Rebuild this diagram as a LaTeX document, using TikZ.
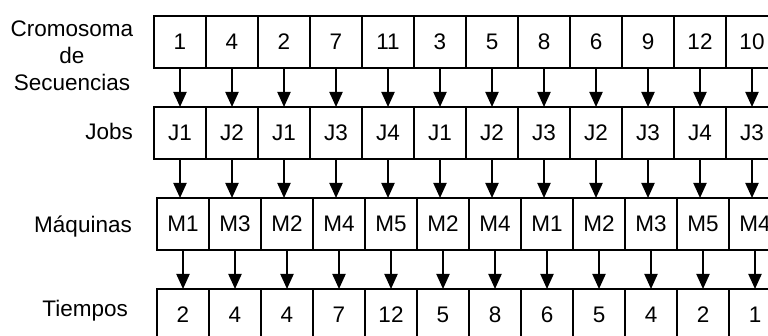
\documentclass[tikz,border=0pt]{standalone}
\usepackage{fontspec}
\setmainfont{Liberation Sans}
\usetikzlibrary{arrows.meta}

\begin{document}
\begin{tikzpicture}[x=1pt, y=-1pt,
    every node/.style={font=\fontsize{22.5}{27}\selectfont},
    cell/.style={draw, line width=2pt, minimum width=52pt, minimum height=52pt, inner sep=0pt, outer sep=0pt},
    rowname/.style={inner sep=0pt, align=center},
    flow/.style={-{Triangle[length=15pt,width=13pt]}, line width=2pt}]
    \clip (0,0) rectangle (768,336);

    \def\w{52}

    \foreach \v [count=\i] in {1,4,2,7,11,3,5,8,6,9,12,10}
        \node[cell] (c\i) at ({128+\w*\i},42) {\v};
    \foreach \v [count=\i] in {J1,J2,J1,J3,J4,J1,J2,J3,J2,J3,J4,J3}
        \node[cell] (j\i) at ({128+\w*\i},133) {\v};
    \foreach \v [count=\i] in {M1,M3,M2,M4,M5,M2,M4,M1,M2,M3,M5,M4}
        \node[cell] (m\i) at ({131+\w*\i},224) {\v};
    \foreach \v [count=\i] in {2,4,4,7,12,5,8,6,5,4,2,1}
        \node[cell] (t\i) at ({131+\w*\i},315) {\v};

    % flechas entre filas
    \foreach \i in {1,...,12} {
        \draw[flow] (c\i.south) -- (c\i.south |- j\i.north);
        \draw[flow] (j\i.south) -- (j\i.south |- m\i.north);
        \draw[flow] (m\i.south) -- (m\i.south |- t\i.north);
    }

    \node[rowname] (crom) at (72,56) {Cromosoma\\de\\Secuencias};
    \node[rowname, anchor=base east] (jobs) at (133,140) {Jobs};
    \node[rowname, anchor=base east] (maq) at (132,233) {Máquinas};
    \node[rowname, anchor=base east] (tiem) at (128,317) {Tiempos};

\end{tikzpicture}
\end{document}
